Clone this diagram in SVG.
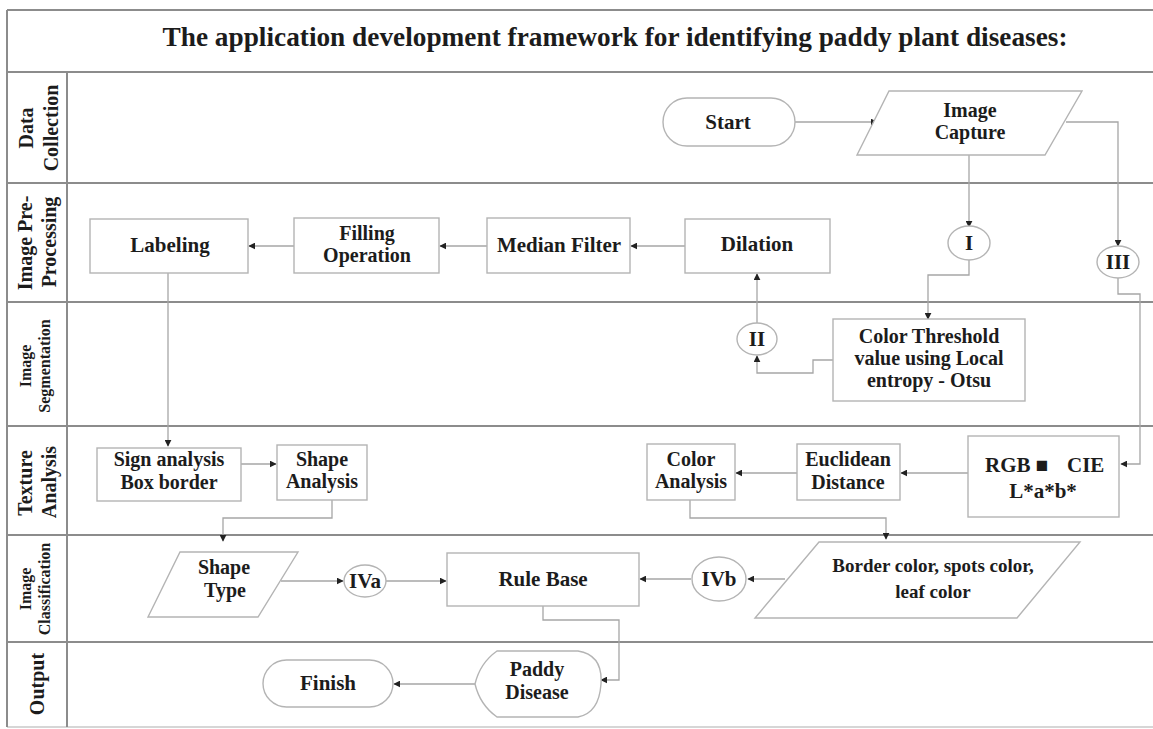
<svg xmlns="http://www.w3.org/2000/svg" width="1153" height="729" viewBox="0 0 1153 729">
<defs>
<style>
.lane{stroke:#8c8c8c;stroke-width:2;fill:none}
.node{fill:#fff;stroke:#b4b4b4;stroke-width:1.4}
.conn{fill:none;stroke:#a6a6a6;stroke-width:1.3}
text{font-family:"Liberation Serif","Times New Roman",serif;font-weight:bold;fill:#1c1c1c}
.t{font-size:21px;text-anchor:middle}
.tm{font-size:20px;text-anchor:middle}
.ts{font-size:19px;text-anchor:middle}
.lab{font-size:20px;text-anchor:middle}
.labs{font-size:16px;text-anchor:middle}
</style>
<marker id="ah" viewBox="0 0 10 10" refX="9" refY="5" markerWidth="7" markerHeight="7" markerUnits="userSpaceOnUse" orient="auto">
<path d="M0,0 L10,5 L0,10 Z" fill="#222"/>
</marker>
</defs>
<rect width="1153" height="729" fill="#fff"/>
<g id="frame">
<path class="lane" d="M7,10 H1153 M7,72 H1153 M7,183 H1153 M7,302 H1153 M7,426 H1153 M7,535 H1153 M7,642 H1153"/>
<path d="M7,727 H1153" stroke="#c8c8c8" stroke-width="1.5"/>
<path class="lane" d="M7,10 V727 M67,72 V727"/>
<text x="615" y="46" font-size="28" text-anchor="middle" textLength="905" lengthAdjust="spacingAndGlyphs">The application development framework for identifying paddy plant diseases:</text>
</g>
<g id="lane-labels">
<text class="lab" transform="translate(33,128) rotate(-90)">Data</text>
<text class="lab" transform="translate(58,128) rotate(-90)">Collection</text>
<text class="lab" transform="translate(32,243) rotate(-90)">Image Pre-</text>
<text class="lab" transform="translate(56,242) rotate(-90)">Processing</text>
<text class="labs" transform="translate(31,366) rotate(-90)">Image</text>
<text class="labs" transform="translate(50,366) rotate(-90)">Segmentation</text>
<text class="lab" transform="translate(32,483) rotate(-90)">Texture</text>
<text class="lab" transform="translate(56,482) rotate(-90)">Analysis</text>
<text class="labs" transform="translate(31,589) rotate(-90)">Image</text>
<text class="labs" transform="translate(50,589) rotate(-90)">Classification</text>
<text class="lab" font-size="22" transform="translate(44,684) rotate(-90)">Output</text>
</g>
<g id="connectors">
<path class="conn" marker-end="url(#ah)" d="M795,122 H877"/>
<path class="conn" marker-end="url(#ah)" d="M969,155 V227"/>
<path class="conn" marker-end="url(#ah)" d="M1066,122 H1118 V246"/>
<path class="conn" marker-end="url(#ah)" d="M969,260 V275 H928 V319"/>
<path class="conn" marker-end="url(#ah)" d="M833,360 H813 V373 H757 V356"/>
<path class="conn" marker-end="url(#ah)" d="M757,323 V274"/>
<path class="conn" marker-end="url(#ah)" d="M685,246 H631"/>
<path class="conn" marker-end="url(#ah)" d="M487,246 H440"/>
<path class="conn" marker-end="url(#ah)" d="M294,246 H249"/>
<path class="conn" marker-end="url(#ah)" d="M168,273 V446"/>
<path class="conn" marker-end="url(#ah)" d="M1118,278 V294 H1140 V464 H1121"/>
<path class="conn" marker-end="url(#ah)" d="M968,473 H901"/>
<path class="conn" marker-end="url(#ah)" d="M797,473 H736"/>
<path class="conn" marker-end="url(#ah)" d="M241,464 H276"/>
<path class="conn" marker-end="url(#ah)" d="M332,500 V518 H223 V541"/>
<path class="conn" marker-end="url(#ah)" d="M690,500 V518 H886 V539"/>
<path class="conn" marker-end="url(#ah)" d="M281,581 H343"/>
<path class="conn" marker-end="url(#ah)" d="M386,581 H446"/>
<path class="conn" marker-end="url(#ah)" d="M691,579 H640"/>
<path class="conn" marker-end="url(#ah)" d="M785,579 H748"/>
<path class="conn" marker-end="url(#ah)" d="M543,606 V620 H619 V680 H601"/>
<path class="conn" marker-end="url(#ah)" d="M475,684 H394"/>
</g>
<g id="start">
<rect class="node" x="663" y="98" width="132" height="48" rx="24"/>
<text class="t" x="728" y="129">Start</text>
</g>
<g id="image-capture">
<path class="node" d="M889,91 H1082 L1045,155 H857 Z"/>
<text class="tm" x="970" y="117">Image</text>
<text class="tm" x="970" y="139">Capture</text>
</g>
<g id="conn-I">
<ellipse class="node" cx="969" cy="243" rx="21" ry="17"/>
<text class="t" x="969" y="250">I</text>
</g>
<g id="conn-III">
<ellipse class="node" cx="1118" cy="262" rx="21" ry="16"/>
<text class="t" x="1118" y="269">III</text>
</g>
<g id="dilation">
<rect class="node" x="685" y="219" width="145" height="54"/>
<text class="t" x="757" y="251">Dilation</text>
</g>
<g id="median-filter">
<rect class="node" x="487" y="218" width="143" height="55"/>
<text class="t" x="559" y="252">Median Filter</text>
</g>
<g id="filling-operation">
<rect class="node" x="294" y="218" width="145" height="55"/>
<text class="tm" x="367" y="240">Filling</text>
<text class="tm" x="367" y="262">Operation</text>
</g>
<g id="labeling">
<rect class="node" x="90" y="219" width="158" height="54"/>
<text class="t" x="170" y="252">Labeling</text>
</g>
<g id="conn-II">
<ellipse class="node" cx="757" cy="339" rx="20" ry="16"/>
<text class="t" x="757" y="346">II</text>
</g>
<g id="color-threshold">
<rect class="node" x="833" y="319" width="192" height="82"/>
<text class="tm" x="929" y="343">Color Threshold</text>
<text class="tm" x="929" y="365">value using Local</text>
<text class="tm" x="929" y="387">entropy - Otsu</text>
</g>
<g id="sign-analysis">
<rect class="node" x="97" y="448" width="144" height="53"/>
<text class="tm" x="169" y="466">Sign analysis</text>
<text class="tm" x="169" y="489">Box border</text>
</g>
<g id="shape-analysis">
<rect class="node" x="277" y="445" width="90" height="55"/>
<text class="tm" x="322" y="466">Shape</text>
<text class="tm" x="322" y="488">Analysis</text>
</g>
<g id="color-analysis">
<rect class="node" x="647" y="444" width="88" height="56"/>
<text class="tm" x="691" y="466">Color</text>
<text class="tm" x="691" y="488">Analysis</text>
</g>
<g id="euclidean-distance">
<rect class="node" x="797" y="444" width="103" height="56"/>
<text class="tm" x="848" y="466">Euclidean</text>
<text class="tm" x="848" y="489">Distance</text>
</g>
<g id="rgb-cie">
<rect class="node" x="968" y="436" width="151" height="81"/>
<text font-size="21" x="985" y="472">RGB ■</text>
<text font-size="21" x="1067" y="472">CIE</text>
<text class="t" x="1043" y="498">L*a*b*</text>
</g>
<g id="shape-type">
<path class="node" d="M180,552 H298 L258,617 H148 Z"/>
<text class="tm" x="224" y="574">Shape</text>
<text class="tm" x="225" y="597">Type</text>
</g>
<g id="conn-IVa">
<ellipse class="node" cx="365" cy="581" rx="21" ry="16"/>
<text class="t" x="365" y="588">IVa</text>
</g>
<g id="rule-base">
<rect class="node" x="447" y="553" width="192" height="53"/>
<text class="t" x="543" y="586">Rule Base</text>
</g>
<g id="conn-IVb">
<ellipse class="node" cx="719" cy="579" rx="27" ry="22"/>
<text class="t" x="719" y="586">IVb</text>
</g>
<g id="border-color">
<path class="node" d="M819,542 H1080 L1017,618 H755 Z"/>
<text class="ts" x="933" y="572">Border color, spots color,</text>
<text class="ts" x="933" y="598">leaf color</text>
</g>
<g id="paddy-disease">
<path class="node" d="M497,651 H578 Q603,655 601,684 Q599,713 578,717 H497 Q480,705 475,684 Q480,663 497,651 Z"/>
<text class="tm" x="537" y="676">Paddy</text>
<text class="tm" x="537" y="699">Disease</text>
</g>
<g id="finish">
<rect class="node" x="263" y="660" width="130" height="47" rx="23.5"/>
<text class="t" x="328" y="690">Finish</text>
</g>
</svg>
